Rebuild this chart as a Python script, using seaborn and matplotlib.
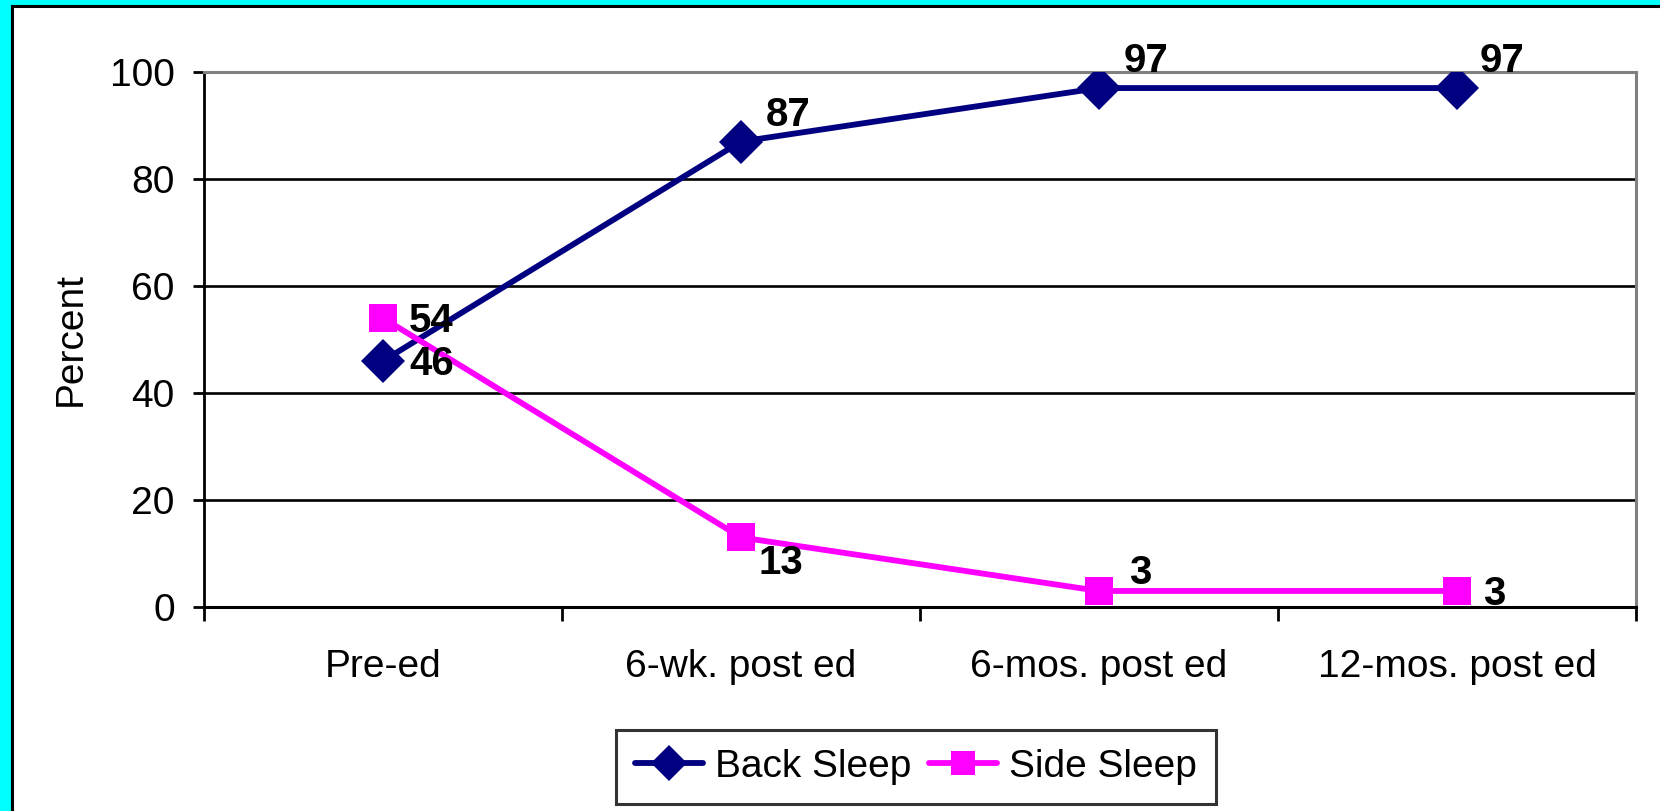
import matplotlib
matplotlib.use("Agg")
import matplotlib.pyplot as plt
from matplotlib.patches import Rectangle
from matplotlib.lines import Line2D
from matplotlib.ticker import FixedLocator, NullFormatter
import seaborn as sns
import pandas as pd

# ---- data -------------------------------------------------------------
stages = ["Pre-ed", "6-wk. post ed", "6-mos. post ed", "12-mos. post ed"]
back_sleep = [46, 87, 97, 97]
side_sleep = [54, 13, 3, 3]
series_names = ["Back Sleep", "Side Sleep"]
y_ticks = [0, 20, 40, 60, 80, 100]

# ---- styling ----------------------------------------------------------
sns.set_theme(style="white")
plt.rcParams["font.family"] = ["Liberation Sans", "DejaVu Sans"]
plt.rcParams["text.color"] = "black"
plt.rcParams["axes.labelcolor"] = "black"

colors = {"Back Sleep": "#000080", "Side Sleep": "#FF00FF"}
markers = {"Back Sleep": "D", "Side Sleep": "s"}
marker_sizes = {"Back Sleep": 22, "Side Sleep": 19.5}
line_w = 4.2

# label offsets in pixels (dx right, dy up) relative to each point
back_offsets = [(26, -3), (25, 27), (25, 27), (23, 27)]
side_offsets = [(26, -3), (17, -26), (30, 18), (26, -3)]

df = pd.concat([
    pd.DataFrame({"stage": stages, "pct": back_sleep, "series": series_names[0]}),
    pd.DataFrame({"stage": stages, "pct": side_sleep, "series": series_names[1]}),
], ignore_index=True)

fig = plt.figure(figsize=(16.6, 8.11), dpi=100)
fig.patch.set_facecolor("#00FFFF")

# white slide panel with black border
panel = Rectangle((11.5 / 1660, -0.05), 1.2, 1 - 5.5 / 811 + 0.05,
                  transform=fig.transFigure, facecolor="white",
                  edgecolor="black", linewidth=2.2, zorder=-10)
fig.add_artist(panel)

ax = fig.add_axes([204 / 1660, 1 - 607 / 811, (1636 - 204) / 1660, (607 - 72) / 811])
ax.set_facecolor("white")

sns.lineplot(data=df, x="stage", y="pct", hue="series", style="series",
             palette=colors, markers=markers, dashes=False, sort=False,
             linewidth=line_w, markersize=15, markeredgewidth=0, ax=ax,
             legend=False, zorder=3)

for line in ax.get_lines():
    if line.get_marker() == "s":
        line.set_markersize(marker_sizes["Side Sleep"])
    elif line.get_marker() == "D":
        line.set_markersize(marker_sizes["Back Sleep"])

ax.set_xlim(-0.5, len(stages) - 0.5)
ax.set_ylim(0, 100)
ax.set_yticks(y_ticks)
ax.set_yticklabels([str(v) for v in y_ticks])
ax.set_xticks(range(len(stages)))
ax.set_xticklabels(stages)
ax.xaxis.set_minor_locator(FixedLocator([i - 0.5 for i in range(len(stages) + 1)]))
ax.xaxis.set_minor_formatter(NullFormatter())

ax.tick_params(axis="x", which="major", length=0, pad=30, labelsize=28, colors="black")
ax.tick_params(axis="x", which="minor", length=10, width=2, direction="out",
               color="black", bottom=True)
ax.tick_params(axis="y", which="major", length=8, width=2, direction="out",
               pad=13, labelsize=28, colors="black", left=True)

for v in y_ticks[1:-1]:
    ax.axhline(v, color="black", linewidth=1.9, zorder=1)

ax.spines["left"].set_color("black")
ax.spines["left"].set_linewidth(2)
ax.spines["bottom"].set_color("black")
ax.spines["bottom"].set_linewidth(2.2)
ax.spines["top"].set_color("#808080")
ax.spines["top"].set_linewidth(2.2)
ax.spines["right"].set_color("#808080")
ax.spines["right"].set_linewidth(2.2)
for sp in ax.spines.values():
    sp.set_zorder(2)

ax.set_xlabel("")
ax.set_ylabel("Percent", fontsize=28, color="black", labelpad=15)

# value labels
px2pt = 72 / 100
for vals, offs in ((back_sleep, back_offsets), (side_sleep, side_offsets)):
    for i, (v, (dx, dy)) in enumerate(zip(vals, offs)):
        ax.annotate(str(v), xy=(i, v), xytext=(dx * px2pt, dy * px2pt),
                    textcoords="offset points", ha="left", va="center",
                    fontsize=29, fontweight="bold", color="black", zorder=5,
                    annotation_clip=False)

# legend below the plot
handles = [Line2D([], [], color=colors[n], marker=markers[n], linewidth=line_w,
                  markersize=marker_sizes[n] * 0.85, markeredgewidth=0)
           for n in series_names]
leg = fig.legend(handles, series_names, loc="center",
                 bbox_to_anchor=(916 / 1660, 44 / 811),
                 ncol=2, frameon=True, fancybox=False, shadow=False,
                 fontsize=28, handlelength=1.75, handletextpad=0.3,
                 columnspacing=0.45, borderpad=0.5)
leg.get_frame().set_edgecolor("black")
leg.get_frame().set_linewidth(2.2)
leg.get_frame().set_facecolor("white")
for t in leg.get_texts():
    t.set_color("black")

fig.savefig("out.png", dpi=100, facecolor=fig.get_facecolor())
